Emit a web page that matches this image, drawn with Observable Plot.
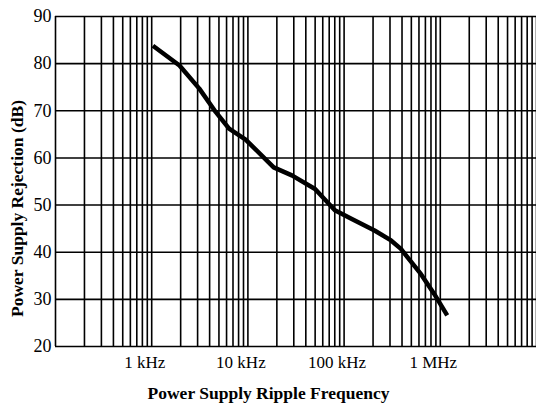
<!DOCTYPE html>
<html>
<head>
<meta charset="utf-8">
<script src="https://cdn.jsdelivr.net/npm/d3@7"></script>
<script src="https://cdn.jsdelivr.net/npm/@observablehq/plot@0.6"></script>
<style>
  html, body { margin: 0; padding: 0; background: #fff; }
  svg { display: block; }
</style>
</head>
<body>
<div id="chart"></div>
<script>
// Curve (frequency in Hz, rejection in dB)
const freq = [1030, 1945, 3125, 4645, 6370, 9470, 18540, 28640, 49900, 80200, 118900, 207200, 307500, 389700, 457000, 627000, 861000, 1180000];
const rejection = [83.8, 79.6, 74.7, 69.7, 66.2, 63.9, 58.0, 56.3, 53.4, 48.9, 47.1, 44.6, 42.5, 40.7, 38.9, 35.4, 31.2, 26.6];

// Axis ticks
const yTicks = [20, 30, 40, 50, 60, 70, 80, 90];
const xTickValues = [1e3, 1e4, 1e5, 1e6];
const xTickLabels = ["1 kHz", "10 kHz", "100 kHz", "1 MHz"];

// Log grid: decades and multipliers
const decades = [100, 1000, 10000, 100000, 1000000];
const multipliers = [1, 2, 3, 4, 5, 6, 7, 8, 9];

const xTitle = "Power Supply Ripple Frequency";
const yTitle = "Power Supply Rejection (dB)";

const data = freq.map((f, i) => ({f, db: rejection[i]}));
const gridX = decades.flatMap(d => multipliers.map(m => d * m)).concat([1e7]);
const labelMap = new Map(xTickValues.map((v, i) => [v, xTickLabels[i]]));

const chart = Plot.plot({
  width: 536,
  height: 404,
  marginTop: 16,
  marginBottom: 58,
  marginLeft: 55,
  marginRight: 0,
  x: {type: "log", domain: [100, 1e7]},
  y: {domain: [20, 90]},
  style: {fontFamily: "'Liberation Serif', 'Times New Roman', serif", color: "black", background: "white"},
  marks: [
    Plot.ruleX(gridX, {stroke: "black", strokeWidth: 1.6}),
    Plot.ruleY(yTicks, {stroke: "black", strokeWidth: 1.6}),
    Plot.axisY(yTicks, {tickSize: 0, tickPadding: 4, fontSize: 18, fontWeight: 500, label: null}),
    Plot.axisX(xTickValues, {tickSize: 0, tickPadding: 9, fontSize: 17, dx: -7, label: null, tickFormat: d => labelMap.get(d)}),
    Plot.line(data, {x: "f", y: "db", stroke: "black", strokeWidth: 4.5, strokeLinejoin: "round", strokeLinecap: "butt"}),
    Plot.text([xTitle], {frameAnchor: "bottom-left", dx: 213, dy: 47, text: d => d, fontSize: 17.5, fontWeight: "bold", textAnchor: "middle", lineAnchor: "middle"}),
    Plot.text([yTitle], {frameAnchor: "left", dx: -38, dy: 27, rotate: -90, text: d => d, fontSize: 17.5, fontWeight: "bold", textAnchor: "middle", lineAnchor: "middle"})
  ]
});
document.getElementById("chart").appendChild(chart);
</script>
</body>
</html>
